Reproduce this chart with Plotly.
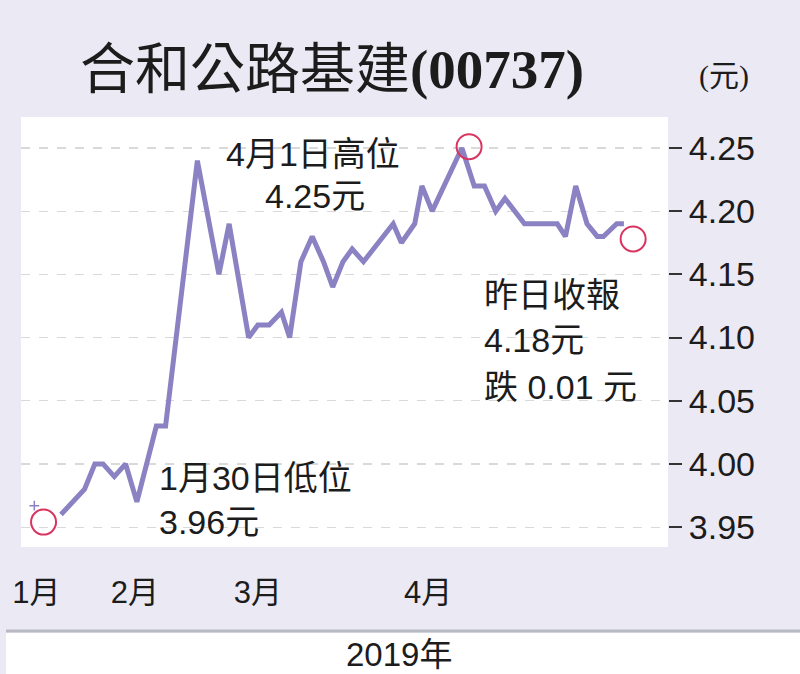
import plotly.graph_objects as go

# ---- data ----
# x: trading-day position (approx.), y: closing price (HK$)
day = [0.0, 2.3, 3.3, 4.1, 5.2, 6.3, 7.4, 9.3, 10.2, 13.3, 15.4, 16.4, 18.3, 19.2,
       20.3, 21.5, 22.3, 23.4, 24.5, 25.6, 26.5, 27.5, 28.4, 29.5, 32.4, 33.2,
       34.5, 35.2, 36.2, 39.1, 40.3, 41.3, 42.4, 43.3, 45.2, 48.4, 49.2, 50.2,
       51.3, 52.3, 52.9, 54.2, 54.9]
price = [3.96, 3.98, 4.00, 4.00, 3.99, 4.00, 3.97, 4.03, 4.03, 4.24, 4.15, 4.19,
         4.10, 4.11, 4.11, 4.12, 4.10, 4.16, 4.18, 4.16, 4.14, 4.16, 4.17, 4.16,
         4.19, 4.175, 4.19, 4.22, 4.20, 4.25, 4.22, 4.22, 4.20, 4.21, 4.19, 4.19,
         4.18, 4.22, 4.19, 4.18, 4.18, 4.19, 4.19]

marker_day = [-1.7, 39.8, 55.8]          # low, high, last close circles
marker_price = [3.954, 4.251, 4.178]

cross_day = [-2.6]
cross_price = [3.967]

y_ticks = [3.95, 4.00, 4.05, 4.10, 4.15, 4.20, 4.25]
month_pos = [-2.4, 7.2, 19.2, 35.8]
month_labels = ["1月", "2月", "3月", "4月"]

title_name = "合和公路基建"
title_code = "(00737)"
unit_text = "(元)"
year_text = "2019年"

LINE = "#8a82c2"
RED = "#d8345f"
BG = "#ebeaf4"
TXT = "#1c1c1c"
FONT = "Liberation Sans, Noto Sans CJK TC, sans-serif"

fig = go.Figure()
fig.add_trace(go.Scatter(x=day, y=price, mode="lines",
                         line=dict(color=LINE, width=5), hoverinfo="skip"))
fig.add_trace(go.Scatter(x=marker_day, y=marker_price, mode="markers",
                         marker=dict(size=25, color="rgba(0,0,0,0)",
                                     line=dict(color=RED, width=2)),
                         hoverinfo="skip"))
fig.add_trace(go.Scatter(x=cross_day, y=cross_price, mode="markers",
                         marker=dict(symbol="cross-thin", size=7,
                                     line=dict(color=LINE, width=1.5)),
                         hoverinfo="skip"))

# plot area: x 18..668 px, y 117..547 px
def px(xp):
    return (xp - 18) / 650.0

def py(yp):
    return (547 - yp) / 430.0

ann = []
def add(text, x, y, size=34, xanchor="center", family=FONT):
    ann.append(dict(text=text, x=x, y=y, xref="paper", yref="paper",
                    showarrow=False, xanchor=xanchor, yanchor="middle",
                    font=dict(size=size, color=TXT, family=family)))

add("4月1日高位", px(311), py(154))
add("4.25元", px(313), py(196))
add("1月30日低位", px(155), py(478), xanchor="left")
add("3.96元", px(155), py(522), xanchor="left")
add("昨日收報", px(481), py(295), xanchor="left")
add("4.18元", px(481), py(340), xanchor="left")
add("跌 0.01 元", px(481), py(387), xanchor="left")
add(title_name + "<b>" + title_code + "</b>", px(330), py(70), size=55,
    family="Liberation Serif, Noto Sans CJK TC, serif")
add(unit_text, px(724), py(76), size=30,
    family="Liberation Serif, Noto Sans CJK TC, serif")
add(year_text, px(398), py(654), size=33)

shapes = [
    dict(type="rect", xref="paper", yref="paper", x0=px(3), x1=px(805),
         y0=py(633), y1=py(680), fillcolor="white", line=dict(width=0),
         layer="below"),
    dict(type="line", xref="paper", yref="paper", x0=px(3), x1=px(805),
         y0=py(631), y1=py(631), line=dict(color="#b9b9c4", width=3)),
]

fig.update_layout(
    width=800, height=674,
    margin=dict(l=18, r=132, t=117, b=127),
    paper_bgcolor=BG, plot_bgcolor="white",
    showlegend=False,
    annotations=ann, shapes=shapes,
    xaxis=dict(range=[-3.9, 59.2], tickvals=month_pos, ticktext=month_labels,
               showgrid=False, zeroline=False, showline=False,
               ticks="outside", ticklen=18, tickcolor="rgba(0,0,0,0)",
               tickfont=dict(size=31, color=TXT, family=FONT), fixedrange=True),
    yaxis=dict(range=[3.9343, 4.2745], side="right", tickvals=y_ticks,
               tickformat=".2f", showgrid=True, gridcolor="#d9d9d9",
               griddash="dash", gridwidth=1.2, zeroline=False, showline=False,
               ticks="outside", ticklen=13, tickwidth=2, tickcolor="#333333",
               tickfont=dict(size=34, color=TXT,
                             family="Liberation Sans Narrow, Liberation Sans, sans-serif"),
               fixedrange=True),
)

fig.write_html("out.html", config={"staticPlot": True},
               post_script="document.body.style.margin='0';"
                           "document.body.style.overflow='hidden';")
